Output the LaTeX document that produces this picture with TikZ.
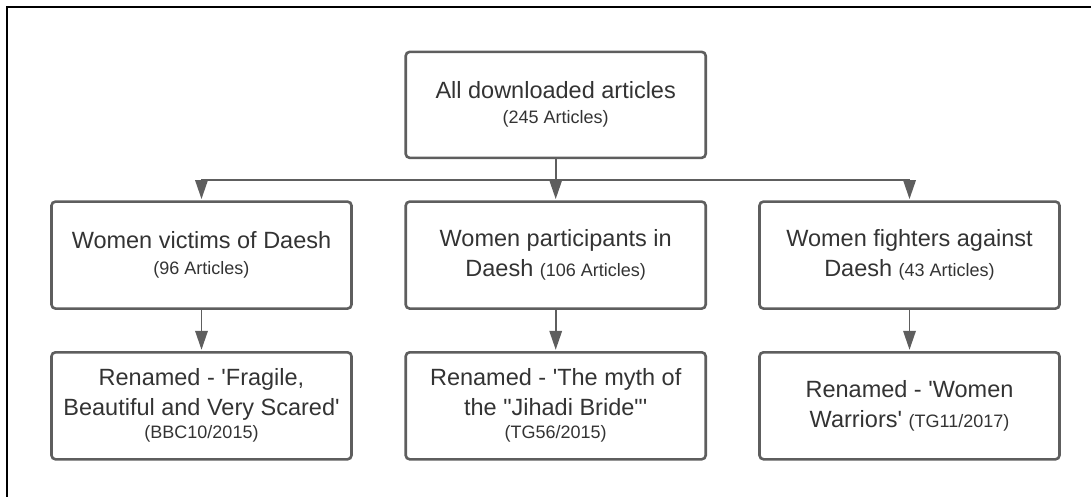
\documentclass[tikz,border=0pt]{standalone}
\usepackage{fontspec}
\setmainfont{Liberation Sans}[Ligatures=TeXOff]
\usetikzlibrary{arrows.meta}
\definecolor{boxgray}{HTML}{5E5E5E}
\definecolor{txtgray}{HTML}{333333}
\newcommand\smtxt[1]{{\fontsize{18}{22}\selectfont #1}}
\begin{document}
\begin{tikzpicture}[x=1pt,y=-1pt,
  box/.style={draw=boxgray, line width=2.6pt, rounded corners=4pt,
    minimum width=300pt, minimum height=107pt, align=center,
    text=txtgray, font=\fontsize{23.5}{30}\selectfont, inner sep=0pt},
  conn/.style={draw=boxgray, line width=1.8pt},
  arr/.style={conn, -{Triangle[length=19pt,width=12.5pt]}, shorten >=1.2pt},
  frame/.style={draw=black, line width=2pt}
]
\useasboundingbox (0,0) rectangle (1091,497);
\draw[frame] (7.3,502) -- (7.3,7.3) -- (1096,7.3);

\node[box, minimum height=106pt] (top) at (555.7,104.85)
  {All downloaded articles\\[-5pt]\smtxt{(245 Articles)}};

\node[box] (v) at (201.5,255.1)
  {Women victims of Daesh\\[-4pt]\smtxt{(96 Articles)}};
\node[box] (p) at (555.7,255.1)
  {Women participants in\\Daesh \smtxt{(106 Articles)}};
\node[box] (f) at (909.5,255.1)
  {Women fighters against\\Daesh \smtxt{(43 Articles)}};

\node[box] (rv) at (201.5,405.8)
  {Renamed - 'Fragile,\\Beautiful and Very Scared'\\[-7pt]\smtxt{(BBC10/2015)}};
\node[box] (rp) at (555.7,405.8)
  {Renamed - 'The myth of\\the "Jihadi Bride"'\\[-7pt]\smtxt{(TG56/2015)}};
\node[box] (rf) at (909.5,405.8)
  {Renamed - 'Women\\Warriors' \smtxt{(TG11/2017)}};

\coordinate (j) at (555.7,180);
\draw[conn] (top.south) -- (j);
\draw[arr] (j) -| (v.north);
\draw[arr] (j) -- (p.north);
\draw[arr] (j) -| (f.north);

\draw[arr] (v.south) -- (rv.north);
\draw[arr] (p.south) -- (rp.north);
\draw[arr] (f.south) -- (rf.north);
\end{tikzpicture}
\end{document}
